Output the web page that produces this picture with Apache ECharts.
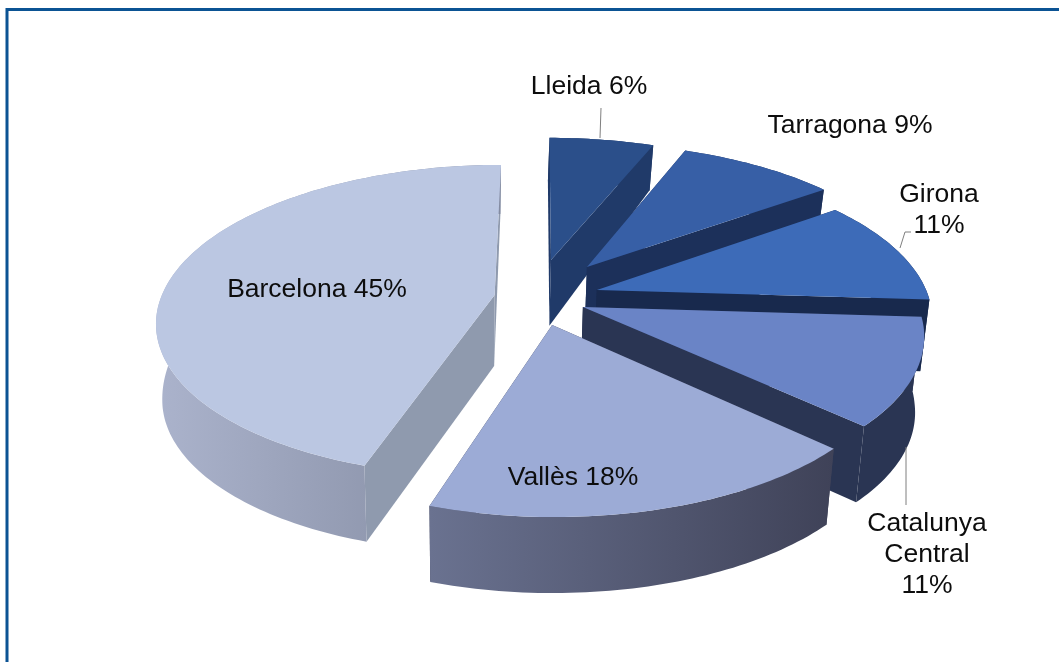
<!DOCTYPE html>
<html>
<head>
<meta charset="utf-8">
<style>
  html, body { margin: 0; padding: 0; background: #fff; }
  #chart { width: 1059px; height: 662px; }
</style>
<script src="https://cdn.jsdelivr.net/npm/echarts@6/dist/echarts.min.js"></script>
</head>
<body>
<div id="chart"></div>
<script>
const categories = ['Lleida', 'Tarragona', 'Girona', 'Catalunya Central', 'Vallès', 'Barcelona']
const values = [6, 9, 11, 11, 18, 45]

// how far each slice is pulled out of the centre, as a share of the radius
const offsetX = [0.034, 0.144, 0.17, 0.126, 0.035, -0.135]
const offsetY = [0.218, 0.169, 0.013, -0.097, -0.21, -0.02]
const radiusScale = [1, 1, 0.985, 0.985, 0.98, 0.99]
const topColors = ['#2b4f8a', '#375fa6', '#3d6bb8', '#6a84c6', '#9cabd6', '#bbc7e2']
const cutColors = ['#203a69', '#1c305a', '#18294d', '#2a3553', '#3f4258', '#8f9aae']
const wallStops = [
  ['#203a69', '#203a69'],
  ['#1c305a', '#1c305a'],
  ['#18294d', '#18294d'],
  ['#2a3553', '#2a3553'],
  ['#6a7290', '#3f4258'],
  ['#abb3cc', '#828aa0']
]

// fake 3d projection, fitted by eye
const cx = 540
const cy = 292
const rx = 335
const ry = 152
const persp = 0.165

const total = values.reduce((a, b) => a + b, 0)

function project(px, py) {
  const w = 1 + persp * py
  return [cx + rx * px / w, cy - ry * py / w, w]
}

function drop(p) {
  const h = Math.min(76, 76 - 135 * (p[2] - 0.96))
  return [p[0] + (470 - p[0]) * 0.02, p[1] + h]
}

function renderSlice(params, api) {
  const i = params.dataIndex
  let start = 0
  for (let k = 0; k < i; k++) start += values[k]
  const a0 = start / total * Math.PI * 2
  const a1 = (start + api.value(0)) / total * Math.PI * 2
  const ox = offsetX[i]
  const oy = offsetY[i]
  const r = radiusScale[i]

  const apex = project(ox, oy)
  const arc = []
  const steps = Math.ceil((a1 - a0) / 0.02)
  for (let s = 0; s <= steps; s++) {
    const a = a0 + (a1 - a0) * s / steps
    arc.push(project(ox + r * Math.sin(a), oy + r * Math.cos(a)))
  }
  const first = arc[0]
  const last = arc[arc.length - 1]
  const xs = arc.map(p => p[0])
  const x0 = Math.min.apply(null, xs)
  const x1 = Math.max.apply(null, xs)

  const flat = p => [p[0], p[1]]
  const wall = (a, b) => ({
    type: 'polygon',
    shape: { points: [flat(a), flat(b), drop(b), drop(a)] },
    style: { fill: cutColors[i] }
  })

  return {
    type: 'group',
    children: [
      wall(apex, first),
      wall(apex, last),
      {
        type: 'polygon',
        shape: { points: arc.map(flat).concat(arc.map(drop).reverse()) },
        style: {
          fill: new echarts.graphic.LinearGradient(x0, 0, x1, 0, [
            { offset: 0, color: wallStops[i][0] },
            { offset: 1, color: wallStops[i][1] }
          ], true)
        }
      },
      {
        type: 'polygon',
        shape: { points: [flat(apex)].concat(arc.map(flat)) },
        style: { fill: topColors[i] }
      }
    ]
  }
}

const labelFont = '26.5px "Liberation Sans", Arial, sans-serif'
const labelLines = [
  { text: categories[0] + ' ' + values[0] + '%', x: 589, y: 87 },
  { text: categories[1] + ' ' + values[1] + '%', x: 850, y: 126 },
  { text: categories[2] + '\n' + values[2] + '%', x: 939, y: 210 },
  { text: 'Catalunya\nCentral\n' + values[3] + '%', x: 927, y: 555 },
  { text: categories[4] + ' ' + values[4] + '%', x: 573, y: 478 },
  { text: categories[5] + ' ' + values[5] + '%', x: 317, y: 290 }
]
const leaders = [
  [[601, 108], [600, 138]],
  [[900, 248], [905, 232], [911, 232]],
  [[906, 447], [906, 505]]
]

const chart = echarts.init(document.getElementById('chart'))
chart.setOption({
  animation: false,
  backgroundColor: '#fff',
  series: [{
    type: 'custom',
    coordinateSystem: 'none',
    renderItem: renderSlice,
    data: values.map((v, i) => ({ name: categories[i], value: [v] })),
    silent: true
  }],
  graphic: [
    // frame, the right and bottom sides are cut off in the source
    {
      type: 'polyline',
      z: 1,
      shape: { points: [[7, 662], [7, 9.5], [1059, 9.5]] },
      style: { stroke: '#0b5394', lineWidth: 3, fill: null }
    }
  ].concat(leaders.map(points => ({
    type: 'polyline',
    z: 10,
    shape: { points: points },
    style: { stroke: '#7f7f7f', lineWidth: 1, fill: null }
  }))).concat(labelLines.map(l => ({
    type: 'text',
    z: 11,
    x: l.x,
    y: l.y,
    style: {
      text: l.text,
      font: labelFont,
      fill: '#0d0d0d',
      align: 'center',
      verticalAlign: 'middle',
      lineHeight: 31
    }
  })))
})
</script>
</body>
</html>
